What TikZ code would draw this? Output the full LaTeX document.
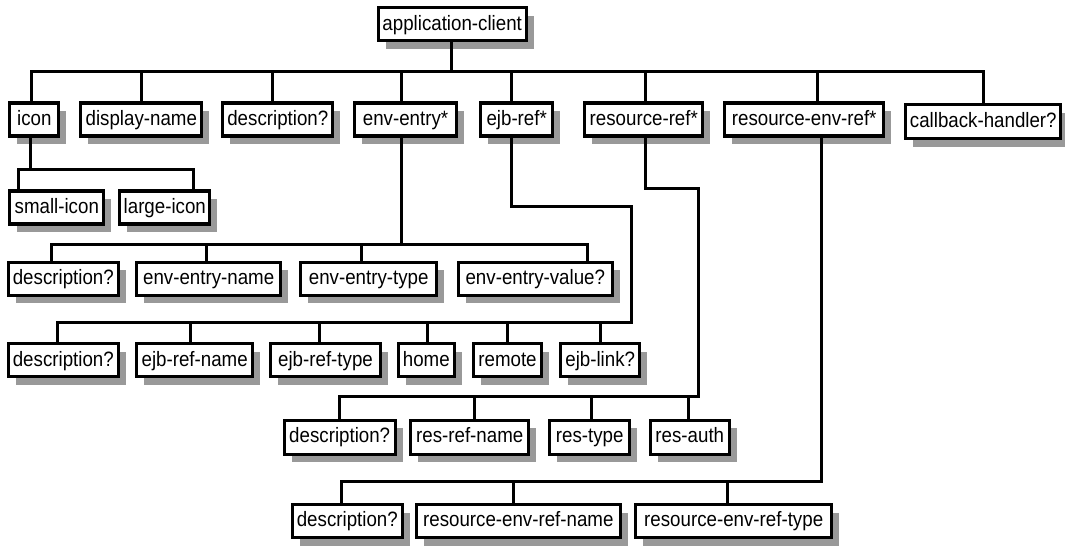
\documentclass[tikz,border=0pt]{standalone}
\usepackage{fontspec}
\setmainfont{Liberation Sans}[FakeStretch=0.9]
\usetikzlibrary{shadows}

\tikzset{
  elem/.style={draw=black, line width=3.2pt, fill=white, inner sep=0pt,
    minimum height=33pt, text height=15pt, text depth=3.5pt,
    font=\fontsize{20.8}{24}\selectfont,
    drop shadow={shadow xshift=7.5pt, shadow yshift=-8pt, fill=black!40, opacity=1}},
  link/.style={draw=black, line width=3pt, line cap=rect}
}

\begin{document}
\begin{tikzpicture}[x=1pt, y=-1pt]
                \useasboundingbox (0,0) rectangle (1065,546);

                % elements
                \node[elem, minimum width=148] (app) at (452.2,24.3) {application-client};

                \node[elem, minimum width=49] (icon) at (34.3,119.5) {icon};
                \node[elem, minimum width=121] (dname) at (141.3,119.5) {display-name};
                \node[elem, minimum width=110] (desc1) at (277.8,119.5) {description?};
                \node[elem, minimum width=101.4] (enventry) at (405.5,119.5) {env-entry*};
                \node[elem, minimum width=72.3] (ejbref) at (516.7,119.5) {ejb-ref*};
                \node[elem, minimum width=118] (resref) at (643.8,119.5) {resource-ref*};
                \node[elem, minimum width=158.7] (resenvref) at (804.2,119.5) {resource-env-ref*};
                \node[elem, minimum width=155, minimum height=34] (callback) at (983.3,121.7) {callback-handler?};

                \node[elem, minimum width=94] (smallicon) at (56.8,207.5) {small-icon};
                \node[elem, minimum width=90] (largeicon) at (164.8,207.5) {large-icon};

                \node[elem, minimum width=110.3] (desc2) at (63.3,278.7) {description?};
                \node[elem, minimum width=144.3] (envname) at (208.7,278.7) {env-entry-name};
                \node[elem, minimum width=136.3] (envtype) at (368.7,278.7) {env-entry-type};
                \node[elem, minimum width=154.3] (envvalue) at (535.3,278.7) {env-entry-value?};

                \node[elem, minimum width=110.3] (desc3) at (63.3,360.3) {description?};
                \node[elem, minimum width=116.3] (ejbname) at (194.7,360.3) {ejb-ref-name};
                \node[elem, minimum width=109.4] (ejbtype) at (325.5,360.3) {ejb-ref-type};
                \node[elem, minimum width=56.3] (home) at (426.3,360.3) {home};
                \node[elem, minimum width=68.6] (remote) at (507.5,360.3) {remote};
                \node[elem, minimum width=78.7] (ejblink) at (600.2,360.3) {ejb-link?};

                \node[elem, minimum width=111, minimum height=34] (desc4) at (339.7,437.2) {description?};
                \node[elem, minimum width=117.7, minimum height=34] (resname) at (469.7,437.2) {res-ref-name};
                \node[elem, minimum width=79.7, minimum height=34] (restype) at (589.7,437.2) {res-type};
                \node[elem, minimum width=78.7, minimum height=34] (resauth) at (689.8,437.2) {res-auth};

                \node[elem, minimum width=110.3] (desc5) at (347.3,521) {description?};
                \node[elem, minimum width=203.7] (renvname) at (518.3,521) {resource-env-ref-name};
                \node[elem, minimum width=196.3] (renvtype) at (733.7,521) {resource-env-ref-type};

                % junctions
                \coordinate (t0) at (451,71.7);
                \coordinate (t1) at (31.7,71.7);
                \coordinate (t2) at (141.7,71.7);
                \coordinate (t3) at (272.7,71.7);
                \coordinate (t4) at (401,71.7);
                \coordinate (t5) at (511.3,71.7);
                \coordinate (t6) at (645.3,71.7);
                \coordinate (t7) at (817.3,71.7);
                \coordinate (t8) at (983.3,71.7);

                \coordinate (i0) at (30,169);
                \coordinate (i1) at (18.3,169);
                \coordinate (i2) at (193.3,169);

                \coordinate (e0) at (401,244);
                \coordinate (e1) at (51.7,244);
                \coordinate (e2) at (206.7,244);
                \coordinate (e3) at (361.7,244);
                \coordinate (e4) at (587.7,244);

                \coordinate (b0) at (511.3,206.7);
                \coordinate (b1) at (631,206.7);
                \coordinate (b2) at (631,322.3);
                \coordinate (j1) at (57.7,322.3);
                \coordinate (j2) at (190,322.3);
                \coordinate (j3) at (319,322.3);
                \coordinate (j4) at (427.7,322.3);
                \coordinate (j5) at (507.3,322.3);
                \coordinate (j6) at (600.7,322.3);

                \coordinate (s0) at (645.3,188.3);
                \coordinate (s1) at (698.3,188.3);
                \coordinate (s2) at (698.3,396.7);
                \coordinate (s3) at (339.3,396.7);
                \coordinate (s4) at (474,396.7);
                \coordinate (s5) at (591.7,396.7);
                \coordinate (s6) at (688.3,396.7);

                \coordinate (v0) at (821,481);
                \coordinate (v1) at (341,481);
                \coordinate (v2) at (513.3,481);
                \coordinate (v3) at (727.7,481);

                % application-client
                \draw[link] (app.south -| t0) -- (t0);
                \draw[link] (t1) -- (t8);
                \draw[link] (t1) -- (icon.north -| t1);
                \draw[link] (t2) -- (dname.north -| t2);
                \draw[link] (t3) -- (desc1.north -| t3);
                \draw[link] (t4) -- (enventry.north -| t4);
                \draw[link] (t5) -- (ejbref.north -| t5);
                \draw[link] (t6) -- (resref.north -| t6);
                \draw[link] (t7) -- (resenvref.north -| t7);
                \draw[link] (t8) -- (callback.north -| t8);

                % icon
                \draw[link] (icon.south -| i0) -- (i0);
                \draw[link] (i1) -- (i2);
                \draw[link] (i1) -- (smallicon.north -| i1);
                \draw[link] (i2) -- (largeicon.north -| i2);

                % env-entry
                \draw[link] (enventry.south -| e0) -- (e0);
                \draw[link] (e1) -- (e4);
                \draw[link] (e1) -- (desc2.north -| e1);
                \draw[link] (e2) -- (envname.north -| e2);
                \draw[link] (e3) -- (envtype.north -| e3);
                \draw[link] (e4) -- (envvalue.north -| e4);

                % ejb-ref
                \draw[link] (ejbref.south -| b0) -- (b0) -- (b1) -- (b2) -- (j1);
                \draw[link] (j1) -- (desc3.north -| j1);
                \draw[link] (j2) -- (ejbname.north -| j2);
                \draw[link] (j3) -- (ejbtype.north -| j3);
                \draw[link] (j4) -- (home.north -| j4);
                \draw[link] (j5) -- (remote.north -| j5);
                \draw[link] (j6) -- (ejblink.north -| j6);

                % resource-ref
                \draw[link] (resref.south -| s0) -- (s0) -- (s1) -- (s2) -- (s3);
                \draw[link] (s3) -- (desc4.north -| s3);
                \draw[link] (s4) -- (resname.north -| s4);
                \draw[link] (s5) -- (restype.north -| s5);
                \draw[link] (s6) -- (resauth.north -| s6);

                % resource-env-ref
                \draw[link] (resenvref.south -| v0) -- (v0) -- (v1);
                \draw[link] (v1) -- (desc5.north -| v1);
                \draw[link] (v2) -- (renvname.north -| v2);
                \draw[link] (v3) -- (renvtype.north -| v3);
\end{tikzpicture}
\end{document}
